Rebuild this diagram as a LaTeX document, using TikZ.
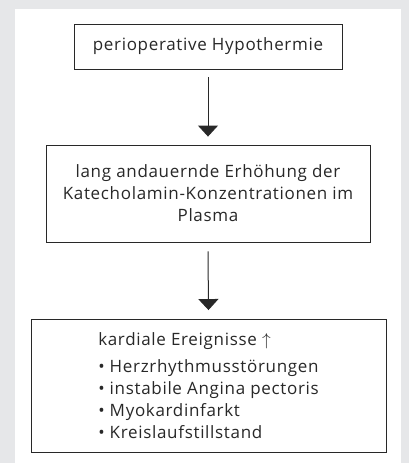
\documentclass[tikz,border=0pt]{standalone}
\usepackage{fontspec}
\setmainfont[LetterSpace=4]{Open Sans}
\usepackage{xcolor}
\usepackage{tikz}
\usetikzlibrary{arrows.meta}
\definecolor{GrauRand}{RGB}{230,231,233}
\definecolor{Linie}{RGB}{40,40,40}

\begin{document}
\begin{tikzpicture}[x=1pt,y=-1pt,>={Triangle[width=20pt,length=11pt]},
  kasten/.style={draw=Linie,line width=0.9pt,fill=white,align=center,
    inner sep=0pt,font=\fontsize{17}{22}\selectfont,text=Linie}]
  \fill[GrauRand] (0,0) rectangle (409,463);
  \fill[white] (15,9) rectangle (401,463);
  \node[kasten,minimum width=268pt,minimum height=45pt] (hypo) at (208,46.5)
    {perioperative Hypothermie};
  \node[kasten,minimum width=324pt,minimum height=97pt] (kat) at (208,193.5)
    {lang andauernde Erhöhung der\\Katecholamin-Konzentrationen im\\Plasma};
  \node[kasten,minimum width=355pt,minimum height=133pt,align=left] (kard) at (208.5,386)
    {kardiale Ereignisse $\uparrow$\\[5pt]
     \textbullet\ Herzrhythmusstörungen\\
     \textbullet\ instabile Angina pectoris\\
     \textbullet\ Myokardinfarkt\\
     \textbullet\ Kreislaufstillstand};
  \draw[->,line width=1pt,Linie] ([yshift=-8pt]hypo.south) -- ([yshift=8pt]kat.north);
  \draw[->,line width=1pt,Linie] ([yshift=-9pt]kat.south) -- ([yshift=9pt]kard.north);
\end{tikzpicture}
\end{document}
